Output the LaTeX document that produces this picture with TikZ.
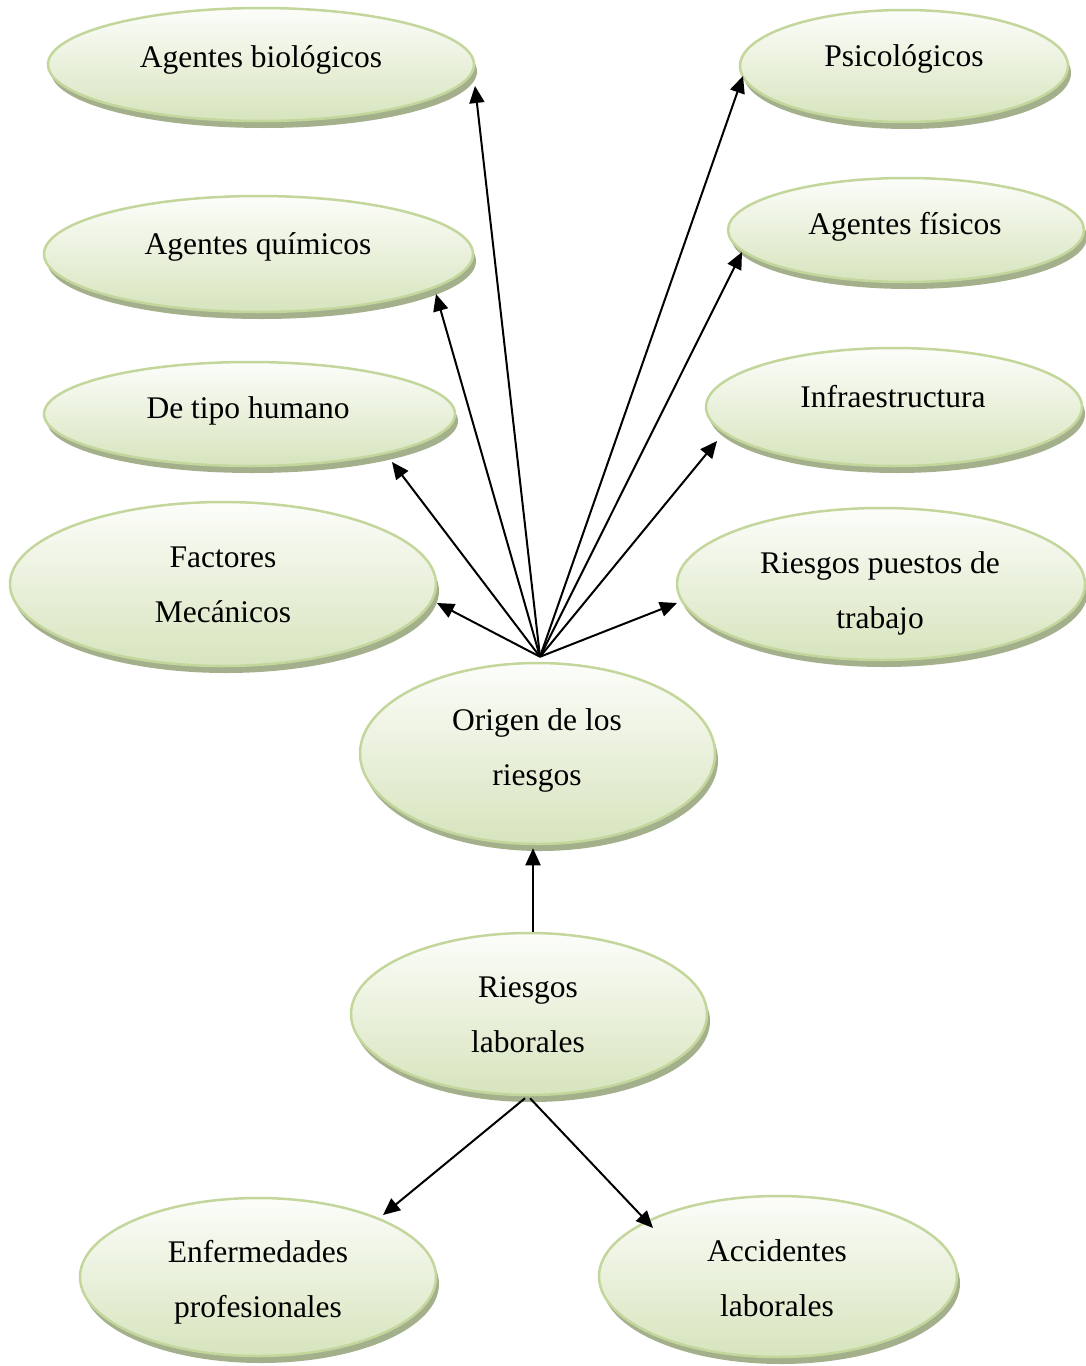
\documentclass[tikz,border=0pt]{standalone}
\usepackage{fontspec}
\setmainfont{Liberation Serif}
\usetikzlibrary{shapes.geometric,shadows,arrows.meta}
\definecolor{ovalborder}{HTML}{C3D69B}
\definecolor{ovaltop}{HTML}{FCFDFA}
\definecolor{ovalbot}{HTML}{D7E4BD}
\definecolor{ovalshadow}{HTML}{A4B08C}
\newcommand{\lstrut}{\rule[-7pt]{0pt}{29pt}}
\begin{document}
\begin{tikzpicture}[x=1pt,y=-1pt,
  oval/.style={ellipse, draw=ovalborder, line width=2.5pt, top color=ovaltop, bottom color=ovalbot, inner sep=0pt,
    drop shadow={shadow xshift=3pt, shadow yshift=-7pt, fill=ovalshadow, opacity=1}},
  lbl/.style={align=center, font=\fontsize{31.5}{55}\selectfont, inner sep=0pt},
  arr/.style={line width=2pt, -{Triangle[length=17pt,width=15pt]}}]
\useasboundingbox (0,0) rectangle (1086,1366);
% ellipses
\node[oval, minimum width=426pt, minimum height=113pt] (bio) at (261,64.5) {};
\node[oval, minimum width=328pt, minimum height=112pt] (psi) at (904,66) {};
\node[oval, minimum width=429pt, minimum height=116pt] (qui) at (258.5,254) {};
\node[oval, minimum width=356pt, minimum height=104pt] (fis) at (906,230) {};
\node[oval, minimum width=411pt, minimum height=104pt] (hum) at (249.5,414) {};
\node[oval, minimum width=376pt, minimum height=118pt] (inf) at (894,407) {};
\node[oval, minimum width=426pt, minimum height=164pt] (mec) at (223,584) {};
\node[oval, minimum width=408pt, minimum height=152pt] (pue) at (881,584) {};
\node[oval, minimum width=355pt, minimum height=181pt] (ori) at (537.5,753.5) {};
\node[oval, minimum width=356pt, minimum height=162pt] (rla) at (529,1014) {};
\node[oval, minimum width=356pt, minimum height=158pt] (enf) at (258,1277) {};
\node[oval, minimum width=358pt, minimum height=161pt] (acc) at (778,1276.5) {};
% labels
\node[lbl] (bioT) at (261,59.5) {\lstrut Agentes biológicos};
\node[lbl] (psiT) at (904,58.5) {\lstrut Psicológicos};
\node[lbl] (quiT) at (258,246.5) {\lstrut Agentes químicos};
\node[lbl] (fisT) at (905,226.5) {\lstrut Agentes físicos};
\node[lbl] (humT) at (248,410.5) {\lstrut De tipo humano};
\node[lbl] (infT) at (893,399.5) {\lstrut Infraestructura};
\node[lbl] (mecT) at (223,587) {\lstrut Factores\\\lstrut Mecánicos};
\node[lbl] (pueT) at (880,593) {\lstrut Riesgos puestos de\\\lstrut trabajo};
\node[lbl] (oriT) at (537,750) {\lstrut Origen de los\\\lstrut riesgos};
\node[lbl] (rlaT) at (528,1017) {\lstrut Riesgos\\\lstrut laborales};
\node[lbl] (enfT) at (258,1282.5) {\lstrut Enfermedades\\\lstrut profesionales};
\node[lbl] (accT) at (777,1281) {\lstrut Accidentes\\\lstrut laborales};
% connector end points
\coordinate (hub) at ([xshift=2.5pt,yshift=5pt]ori.north);
\coordinate (tbio) at (475,86);
\coordinate (tpsi) at (743,76);
\coordinate (tqui) at (436,294);
\coordinate (tfis) at (742,252);
\coordinate (thum) at (392,462);
\coordinate (tinf) at (717,441);
\coordinate (tmec) at (437,603);
\coordinate (tpue) at (677,603);
\coordinate (tenf) at (383,1215);
\coordinate (tacc) at (653,1228);
% connectors
\draw[arr] (hub) -- (tbio);
\draw[arr] (hub) -- (tpsi);
\draw[arr] (hub) -- (tqui);
\draw[arr] (hub) -- (tfis);
\draw[arr] (hub) -- (thum);
\draw[arr] (hub) -- (tinf);
\draw[arr] (hub) -- (tmec);
\draw[arr] (hub) -- (tpue);
\draw[arr] ([xshift=4pt]rla.north) -- ([xshift=-4.5pt,yshift=-3pt]ori.south);
\draw[arr] ([xshift=-4pt,yshift=-2pt]rla.south) -- (tenf);
\draw[arr] ([xshift=1pt,yshift=-2pt]rla.south) -- (tacc);
\end{tikzpicture}
\end{document}
